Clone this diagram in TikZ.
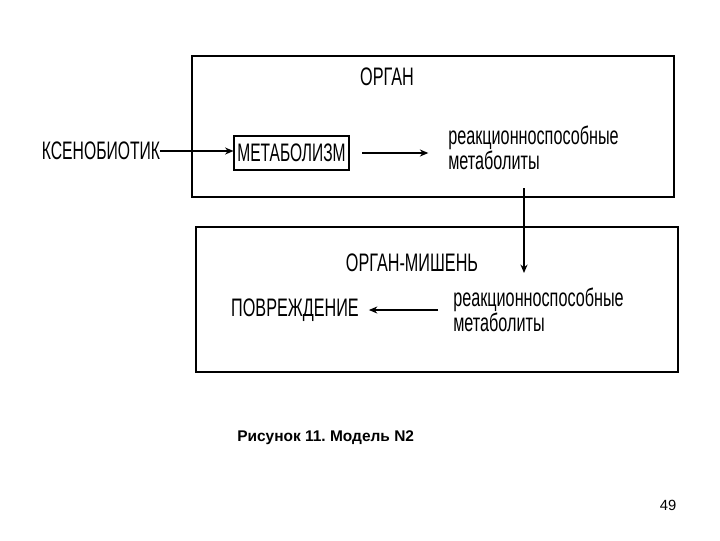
\documentclass[tikz,border=0pt]{standalone}
\usepackage{fontspec}
\setmainfont{Liberation Sans}
\newfontfamily\narrowfont[FakeStretch=0.64]{Liberation Sans}
\usetikzlibrary{arrows.meta}
\frenchspacing

\begin{document}
\begin{tikzpicture}[x=0.025cm, y=-0.025cm,
    lbl/.style={font=\narrowfont\fontsize{18}{14.5}\selectfont, inner sep=0pt},
    arr/.style={line width=1.2pt, -{Stealth[length=6pt, width=5pt]}}]
    \useasboundingbox (0,0) rectangle (720,540);

    % Organ
    \draw[line width=1.5pt] (192,56) rectangle (674,197);
    \node[lbl] (organ) at (387,77) {ОРГАН};
    \node[lbl, xscale=0.97] (xeno) at (101,151) {КСЕНОБИОТИК};
    \node[lbl, draw, line width=1pt, minimum width=81.5pt, minimum height=24pt] (metab) at (291.5,153) {\scalebox{0.96}[1]{МЕТАБОЛИЗМ}};
    \node[lbl, align=left, anchor=west] (react1) at (448,148) {реакционноспособные\\метаболиты};

    \draw[arr] (xeno.east) -- (xeno.east -| metab.west);
    \draw[arr, shorten <=9pt, shorten >=14pt] (metab.east) -- (metab.east -| react1.west);

    % Target organ
    \draw[line width=1pt] (196,227) rectangle (678,372);
    \node[lbl] (target) at (412,263) {ОРГАН-МИШЕНЬ};
    \node[lbl] (damage) at (295,310) {ПОВРЕЖДЕНИЕ};
    \node[lbl, align=left, anchor=west] (react2) at (453,310) {реакционноспособные\\метаболиты};

    \draw[arr, shorten <=10.5pt, shorten >=7pt] (react2.west) -- (react2.west -| damage.east);

    % Transfer
    \coordinate (drop) at (524,188);
    \coordinate (land) at (524,273);
    \draw[arr] (drop) -- (land);

    % Caption
    \node[font=\bfseries\fontsize{11}{13}\selectfont, anchor=west, inner sep=0pt] (caption) at (237,438) {Рисунок 11. Модель N2};
    \node[font=\fontsize{10.5}{12}\selectfont, inner sep=0pt] (page) at (668,505) {49};
\end{tikzpicture}
\end{document}
